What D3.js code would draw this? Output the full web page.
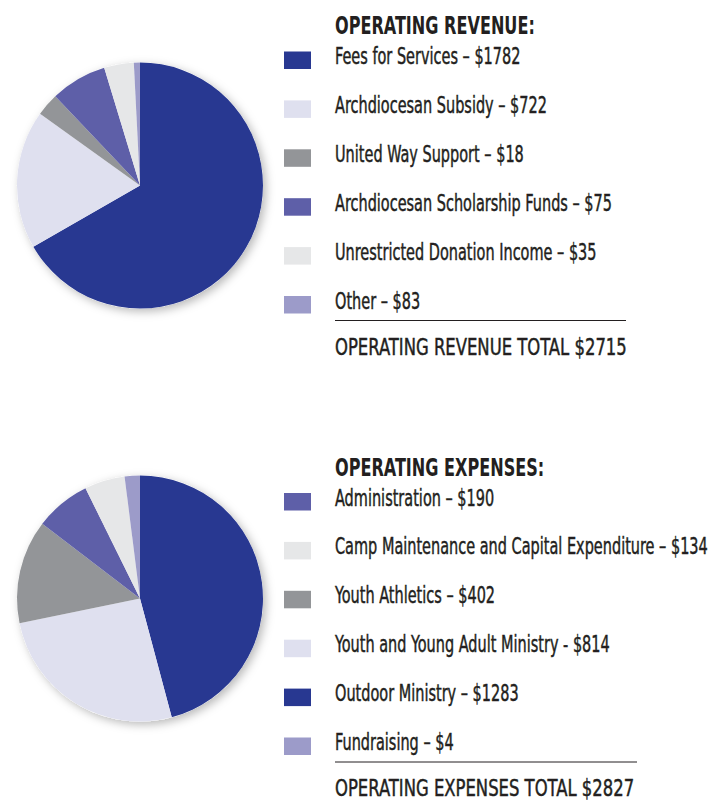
<!DOCTYPE html>
<html>
<head>
<meta charset="utf-8">
<script src="https://cdn.jsdelivr.net/npm/d3@7"></script>
<style>
  body { margin: 0; background: #fff; }
  text { font-family: "DejaVu Sans Condensed", "DejaVu Sans", sans-serif; fill: #231f20; }
</style>
</head>
<body>
<div id="container"></div>
<script>
// revenue (legend order)
const revenueLabels = ["Fees for Services", "Archdiocesan Subsidy", "United Way Support",
                       "Archdiocesan Scholarship Funds", "Unrestricted Donation Income", "Other"]
const revenueAmounts = [1782, 722, 18, 75, 35, 83]
// share of the circle each slice takes in the picture (percent)
const revenueSlices = [66.7, 18.2, 3.0, 7.4, 3.9, 0.8]
const revenueColors = ["#283891", "#dfe0ef", "#939598", "#5e5fa8", "#e6e7e8", "#9c9bc9"]
const revenueTotal = 2715

// expenses (legend order)
const expenseLabels = ["Administration", "Camp Maintenance and Capital Expenditure", "Youth Athletics",
                       "Youth and Young Adult Ministry", "Outdoor Ministry", "Fundraising"]
const expenseAmounts = [190, 134, 402, 814, 1283, 4]
const expenseDash = ["–", "–", "–", "-", "–", "–"]
const expenseSlices = [7.3, 5.3, 13.6, 25.9, 45.8, 2.0]
const expenseColors = ["#5e5fa8", "#e6e7e8", "#939598", "#dfe0ef", "#283891", "#9c9bc9"]
// clockwise order of slices from 12 o'clock
const expensePieOrder = [4, 3, 2, 0, 1, 5]
const expenseTotal = 2827

const width = 710, height = 802
const radius = 123

const svg = d3.select("#container").append("svg")
              .attr("width", width)
              .attr("height", height)

// soft shadow under pies
const filter = svg.append("defs").append("filter")
                  .attr("id", "shadow")
                  .attr("x", "-20%").attr("y", "-20%")
                  .attr("width", "140%").attr("height", "140%")
filter.append("feDropShadow")
      .attr("dx", 3).attr("dy", 3)
      .attr("stdDeviation", 5)
      .attr("flood-color", "#000")
      .attr("flood-opacity", 0.28)

const arc = d3.arc().innerRadius(0).outerRadius(radius)

function drawPie(cx, cy, slices, colors, order) {
    const data = order.map(i => ({value: slices[i], color: colors[i]}))
    const pie = d3.pie().sort(null).value(d => d.value)
    const g = svg.append("g")
                 .attr("transform", `translate(${cx}, ${cy})`)
    g.append("circle")
     .attr("r", radius)
     .attr("fill", "#fff")
     .attr("filter", "url(#shadow)")
    g.selectAll("path")
     .data(pie(data))
     .join("path")
     .attr("d", arc)
     .attr("fill", d => d.data.color)
}

function drawLegend(top, title, labels, amounts, dashes, colors, totalText, lineEnd) {
    const rowStep = 48.9
    const y = d3.scaleLinear().domain([0, 1]).range([top, top + rowStep])
    const g = svg.append("g")

    // condensed type: squeeze the glyphs horizontally
    const addText = (x, yy, str, size, weight, sx) => {
        g.append("text")
         .attr("transform", `translate(${x}, ${yy}) scale(${sx}, 1)`)
         .attr("font-size", size)
         .attr("font-weight", weight)
         .attr("stroke", weight === "bold" ? "none" : "#231f20")
         .attr("stroke-width", 0.45)
         .text(str)
    }

    addText(335, y(0) - 30, title, 24, "bold", 0.745)

    labels.forEach((label, i) => {
        g.append("rect")
         .attr("x", 284)
         .attr("y", y(i) - 12.5)
         .attr("width", 27)
         .attr("height", 17.5)
         .attr("fill", colors[i])
        addText(335, y(i), `${label} ${dashes[i]} $${amounts[i]}`, 23, "normal", 0.70)
    })

    const lineY = y(labels.length - 1) + 12
    g.append("line")
     .attr("x1", 335).attr("x2", lineEnd)
     .attr("y1", lineY).attr("y2", lineY)
     .attr("stroke", "#231f20")
     .attr("stroke-width", 1)

    addText(335, y(labels.length - 1) + 46, totalText, 23, "normal", 0.795)
}

drawPie(140, 185.5, revenueSlices, revenueColors, d3.range(revenueSlices.length))
drawPie(140, 598.5, expenseSlices, expenseColors, expensePieOrder)

drawLegend(64, "OPERATING REVENUE:", revenueLabels, revenueAmounts,
           revenueLabels.map(() => "–"), revenueColors,
           `OPERATING REVENUE TOTAL $${revenueTotal}`, 626)
drawLegend(505.5, "OPERATING EXPENSES:", expenseLabels, expenseAmounts,
           expenseDash, expenseColors,
           `OPERATING EXPENSES TOTAL $${expenseTotal}`, 637)
</script>
</body>
</html>
